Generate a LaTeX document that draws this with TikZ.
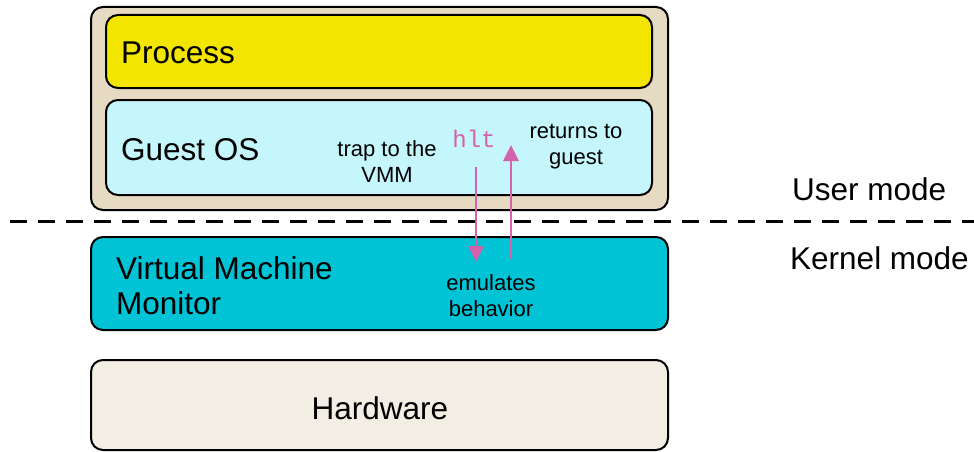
\documentclass[tikz,border=0pt]{standalone}
\usepackage{fontspec}
\setmainfont{Liberation Sans}
\setmonofont{Liberation Mono}
\usetikzlibrary{arrows.meta}
\definecolor{vmtan}{HTML}{E6DAC3}
\definecolor{procyellow}{HTML}{F2E600}
\definecolor{guestcyan}{HTML}{C4F6FC}
\definecolor{vmmcyan}{HTML}{00C4D6}
\definecolor{hwbeige}{HTML}{F3EEE4}
\definecolor{trapink}{HTML}{D462AD}
\tikzset{
  layer/.style={draw=black, line width=2pt, rounded corners=12pt, inner sep=0pt},
  bigtext/.style={font=\fontsize{31.5}{35}\selectfont, inner sep=0pt, align=left},
  smalltext/.style={font=\fontsize{22}{26}\selectfont, inner sep=0pt, align=center},
  traparrow/.style={draw=trapink, line width=2.7pt, -{Triangle[length=16pt,width=15pt]}},
}
\begin{document}
\begin{tikzpicture}[x=1pt, y=-1pt]
\useasboundingbox (0,0) rectangle (974,452);

% virtual machine container with its two layers
\node[layer, fill=vmtan, minimum width=577pt, minimum height=203pt] (vm) at (379.5,108.5) {};
\node[layer, fill=procyellow, minimum width=546pt, minimum height=73pt] (proc) at (379,51.5) {};
\node[layer, fill=guestcyan, minimum width=546pt, minimum height=95pt] (guest) at (379,147.5) {};

% monitor and hardware
\node[layer, fill=vmmcyan, minimum width=577pt, minimum height=93pt] (vmm) at (379.5,283.5) {};
\node[layer, fill=hwbeige, minimum width=577pt, minimum height=90pt] (hw) at (379.5,405) {};

% privilege boundary
\coordinate (sepL) at (10,221);
\coordinate (sepR) at (974,221);
\draw[line width=3pt, dash pattern=on 17pt off 11pt] (sepL) -- (sepR);

% layer labels
\node[bigtext, anchor=west] (proclbl) at (121,53) {Process};
\node[bigtext, anchor=west] (guestlbl) at (121,150) {Guest OS};
\node[bigtext, anchor=west] (vmmlbl) at (116,286) {Virtual Machine\\Monitor};
\node[bigtext] (hwlbl) at (380,408) {Hardware};
\node[bigtext, anchor=west] (usermode) at (792,189) {User mode};
\node[bigtext, anchor=west] (kernmode) at (790,258) {Kernel mode};

% trap-and-emulate path
\node[font=\fontsize{24}{26}\selectfont\ttfamily, text=trapink, inner sep=0pt] (hlt) at (474,139) {hlt};
\node[smalltext] (traplbl) at (387,162) {trap to the\\VMM};
\node[smalltext] (retlbl) at (576,147) {returns to\\guest};
\node[smalltext] (emulbl) at (491,296) {emulates\\behavior};

\coordinate (trapStart) at (476,167);
\coordinate (trapEnd) at (476,262);
\coordinate (retStart) at (511,259);
\coordinate (retEnd) at (511,145);
\draw[traparrow] (trapStart) -- (trapEnd);
\draw[traparrow] (retStart) -- (retEnd);
\end{tikzpicture}
\end{document}
